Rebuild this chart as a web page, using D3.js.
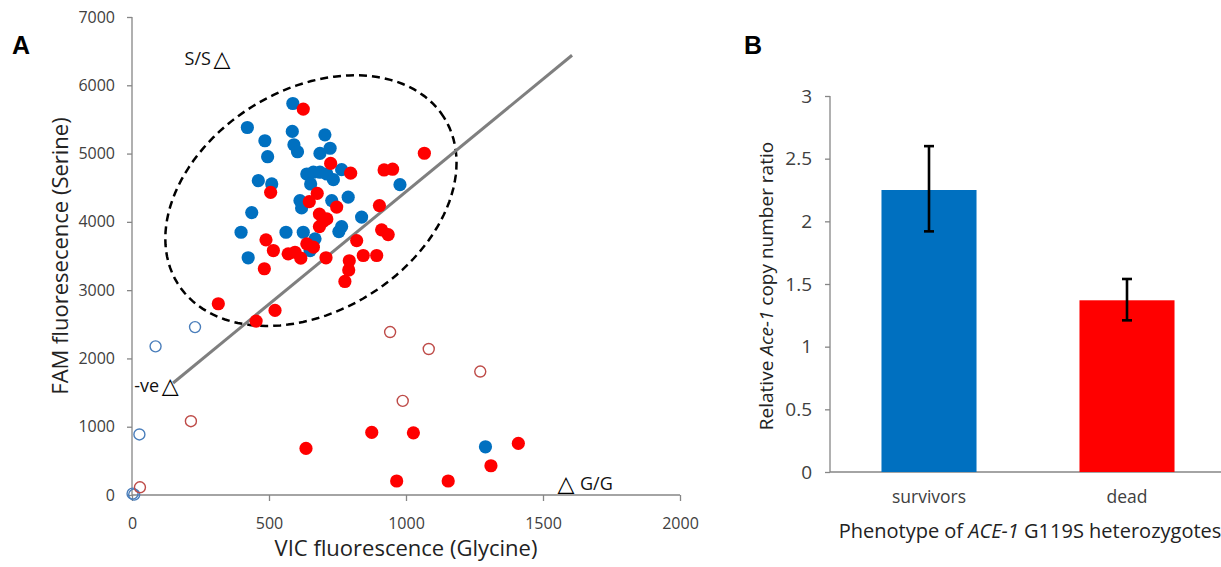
<!DOCTYPE html>
<html lang="en">
  <head>
    <meta charset="utf-8" />
    <style>
      body { margin: 0; background: #fff; }
      svg { display: block; font-family: "Open Sans", sans-serif; }
    </style>
  </head>
  <body>
    <svg id="chart" width="1221" height="567"></svg>
    <script src="https://d3js.org/d3.v7.min.js"></script>
    <script>
      // ---- panel A data: [VIC, FAM] ----
      const blueFilled = [
        [587, 5733], [421, 5382], [585, 5324], [704, 5275], [485, 5188],
        [591, 5129], [604, 5027], [723, 5078], [686, 5002], [495, 4954],
        [765, 4764], [638, 4701], [662, 4727], [686, 4727], [711, 4701],
        [461, 4603], [510, 4555], [652, 4555], [735, 4618], [613, 4311],
        [729, 4311], [789, 4362], [437, 4136], [619, 4204], [978, 4545],
        [838, 4070], [765, 3931], [755, 3858], [562, 3848], [398, 3848],
        [625, 3848], [668, 3751], [650, 3580], [424, 3474], [1290, 706]
      ];
      const redFilled = [
        [625, 5651], [725, 4856], [798, 4713], [920, 4760], [951, 4771],
        [1067, 5005], [506, 4432], [676, 4418], [647, 4296], [747, 4216],
        [684, 4114], [711, 4043], [903, 4238], [698, 4008], [684, 3931],
        [489, 3737], [516, 3580], [483, 3313], [570, 3532], [595, 3555],
        [616, 3468], [638, 3678], [662, 3629], [708, 3474], [820, 3726],
        [911, 3883], [935, 3814], [844, 3507], [893, 3507], [793, 3430],
        [791, 3295], [777, 3127], [315, 2801], [522, 2703], [453, 2547],
        [635, 682], [875, 916], [1027, 910], [966, 205], [1154, 205],
        [1310, 428], [1410, 755]
      ];
      const blueOpen = [[230, 2459], [86, 2177], [27, 887], [2, 20], [8, 5]];
      const redOpen = [
        [942, 2386], [1083, 2138], [1271, 1808], [988, 1378], [215, 1081], [29, 113]
      ];
      const trendLine = [[150, 1640], [1606, 6440]];
      // dashed ellipse: centre and two semi-axis vectors, in data units
      const ellipseCentre = [653, 4311];
      const ellipseU = [486, 1216];
      const ellipseV = [-215, 1375];
      const markers = [
        { label: "S/S", at: [328, 6386], side: "left" },
        { label: "-ve", at: [139, 1593], side: "left" },
        { label: "G/G", at: [1584, 161], side: "right" }
      ];
      const xTicksA = [0, 500, 1000, 1500, 2000];
      const yTicksA = [0, 1000, 2000, 3000, 4000, 5000, 6000, 7000];

      // ---- panel B data ----
      const phenotypes = ["survivors", "dead"];
      const copyRatio = [2.25, 1.37];
      const errHigh = [2.60, 1.54];
      const errLow = [1.92, 1.21];
      const barColours = ["#0070C0", "#FF0000"];
      const yTicksB = [0, 0.5, 1, 1.5, 2, 2.5, 3];

      const axisGrey = "#868686";
      const tickText = "#404040";
      const svg = d3.select("#chart");

      // ================= panel A =================
      const x = d3.scaleLinear().domain([0, 2000]).range([132, 680]);
      const y = d3.scaleLinear().domain([0, 7000]).range([495, 17]);

      const gA = svg.append("g");

      const yAxisA = gA.append("g")
        .attr("transform", `translate(${x(0)},0)`)
        .call(d3.axisLeft(y).tickValues(yTicksA).tickSize(5).tickPadding(12)
          .tickFormat(d3.format("d")));
      const xAxisA = gA.append("g")
        .attr("transform", `translate(0,${y(0)})`)
        .call(d3.axisBottom(x).tickValues(xTicksA).tickSize(6).tickPadding(17)
          .tickFormat(d3.format("d")));
      [yAxisA, xAxisA].forEach(a => {
        a.selectAll("path, line").attr("stroke", axisGrey).attr("stroke-width", 1.3);
        a.selectAll("text").attr("fill", tickText).style("font-size", "16px")
          .style("font-family", "'Open Sans', sans-serif");
      });
      yAxisA.select("path").attr("d", `M0,${y(7000)}V${y(0)}`);
      xAxisA.select("path").attr("d", `M${x(0)},0H${x(2000)}`);

      // ellipse and trend line under the dots
      const ellipsePts = d3.range(0, 361, 3).map(deg => {
        const t = deg * Math.PI / 180;
        return [
          ellipseCentre[0] + Math.cos(t) * ellipseU[0] + Math.sin(t) * ellipseV[0],
          ellipseCentre[1] + Math.cos(t) * ellipseU[1] + Math.sin(t) * ellipseV[1]
        ];
      });
      gA.append("path")
        .attr("d", d3.line().x(d => x(d[0])).y(d => y(d[1])).curve(d3.curveLinearClosed)(ellipsePts))
        .attr("fill", "none")
        .attr("stroke", "#000")
        .attr("stroke-width", 2.5)
        .attr("stroke-dasharray", "8,5");

      gA.append("line")
        .attr("x1", x(trendLine[0][0])).attr("y1", y(trendLine[0][1]))
        .attr("x2", x(trendLine[1][0])).attr("y2", y(trendLine[1][1]))
        .attr("stroke", "#7f7f7f")
        .attr("stroke-width", 3);

      gA.append("g").selectAll("circle")
        .data(blueOpen).join("circle")
        .attr("cx", d => x(d[0])).attr("cy", d => y(d[1])).attr("r", 5.5)
        .attr("fill", "none").attr("stroke", "#4a7ebb").attr("stroke-width", 1.4);
      gA.append("g").selectAll("circle")
        .data(redOpen).join("circle")
        .attr("cx", d => x(d[0])).attr("cy", d => y(d[1])).attr("r", 5.5)
        .attr("fill", "none").attr("stroke", "#be4b48").attr("stroke-width", 1.4);
      gA.append("g").selectAll("circle")
        .data(blueFilled).join("circle")
        .attr("cx", d => x(d[0])).attr("cy", d => y(d[1])).attr("r", 6.6)
        .attr("fill", "#0070C0");
      gA.append("g").selectAll("circle")
        .data(redFilled).join("circle")
        .attr("cx", d => x(d[0])).attr("cy", d => y(d[1])).attr("r", 6.6)
        .attr("fill", "#FF0000");

      // genotype markers
      markers.forEach(m => {
        const px = x(m.at[0]), py = y(m.at[1]);
        gA.append("text").attr("x", px).attr("y", py + 7)
          .attr("text-anchor", "middle").style("font-size", "22px")
          .style("font-family", "'DejaVu Sans', sans-serif").text("\u25B3");
        gA.append("text")
          .attr("x", m.side === "left" ? px - 11 : px + 14)
          .attr("y", py + 6)
          .attr("text-anchor", m.side === "left" ? "end" : "start")
          .style("font-size", "18px").attr("fill", "#111")
          .text(m.label);
      });

      gA.append("text")
        .attr("transform", `translate(68,${(y(0) + y(7000)) / 2}) rotate(-90)`)
        .attr("text-anchor", "middle").style("font-size", "22px").attr("fill", "#222")
        .text("FAM fluoresecence (Serine)");
      gA.append("text")
        .attr("x", (x(0) + x(2000)) / 2).attr("y", 556)
        .attr("text-anchor", "middle").style("font-size", "22px").attr("fill", "#222")
        .text("VIC fluorescence (Glycine)");
      svg.append("text").attr("x", 12).attr("y", 54)
        .style("font-size", "25px").style("font-weight", "bold")
        .style("font-family", "'Liberation Sans', Arial, sans-serif").text("A");

      // ================= panel B =================
      const xb = d3.scaleBand().domain(phenotypes).range([830, 1226])
        .paddingInner(0.52).paddingOuter(0.26);
      const yb = d3.scaleLinear().domain([0, 3]).range([472, 96]);

      const gB = svg.append("g");
      const yAxisB = gB.append("g")
        .attr("transform", `translate(830,0)`)
        .call(d3.axisLeft(yb).tickValues(yTicksB).tickSize(5).tickPadding(13)
          .tickFormat(d3.format("")));
      yAxisB.selectAll("path, line").attr("stroke", axisGrey).attr("stroke-width", 1.3);
      yAxisB.selectAll("text").attr("fill", tickText).style("font-size", "19px")
        .style("font-family", "'Open Sans', sans-serif");
      yAxisB.select("path").attr("d", `M0,${yb(3)}V${yb(0)}`);

      const xAxisB = gB.append("g")
        .attr("transform", `translate(0,${yb(0)})`)
        .call(d3.axisBottom(xb).tickSize(0).tickPadding(19));
      xAxisB.select("path").attr("d", "M830,0H1221").attr("stroke", axisGrey).attr("stroke-width", 1.3);
      xAxisB.selectAll("text").attr("fill", tickText).style("font-size", "17.5px")
        .style("font-family", "'Open Sans', sans-serif");

      gB.append("g").selectAll("rect")
        .data(phenotypes).join("rect")
        .attr("x", d => xb(d)).attr("width", xb.bandwidth())
        .attr("y", (d, i) => yb(copyRatio[i]))
        .attr("height", (d, i) => yb(0) - yb(copyRatio[i]))
        .attr("fill", (d, i) => barColours[i]);

      const err = gB.append("g").attr("stroke", "#000").attr("stroke-width", 2.6);
      phenotypes.forEach((p, i) => {
        const cx = xb(p) + xb.bandwidth() / 2;
        err.append("line").attr("x1", cx).attr("x2", cx)
          .attr("y1", yb(errHigh[i])).attr("y2", yb(errLow[i]));
        [errHigh[i], errLow[i]].forEach(v => {
          err.append("line").attr("x1", cx - 5).attr("x2", cx + 5)
            .attr("y1", yb(v)).attr("y2", yb(v));
        });
      });

      const yTitleB = gB.append("text")
        .attr("transform", `translate(773,${(yb(0) + yb(3)) / 2 + 2}) rotate(-90)`)
        .attr("text-anchor", "middle").style("font-size", "19px").attr("fill", "#222");
      yTitleB.append("tspan").text("Relative ");
      yTitleB.append("tspan").style("font-style", "italic").text("Ace-1");
      yTitleB.append("tspan").text(" copy number ratio");

      const xTitleB = gB.append("text")
        .attr("x", 1030).attr("y", 538)
        .attr("text-anchor", "middle").style("font-size", "20px").attr("fill", "#222");
      xTitleB.append("tspan").text("Phenotype of ");
      xTitleB.append("tspan").style("font-style", "italic").text("ACE-1");
      xTitleB.append("tspan").text(" G119S heterozygotes");

      svg.append("text").attr("x", 744).attr("y", 54)
        .style("font-size", "25px").style("font-weight", "bold")
        .style("font-family", "'Liberation Sans', Arial, sans-serif").text("B");
    </script>
  </body>
</html>
